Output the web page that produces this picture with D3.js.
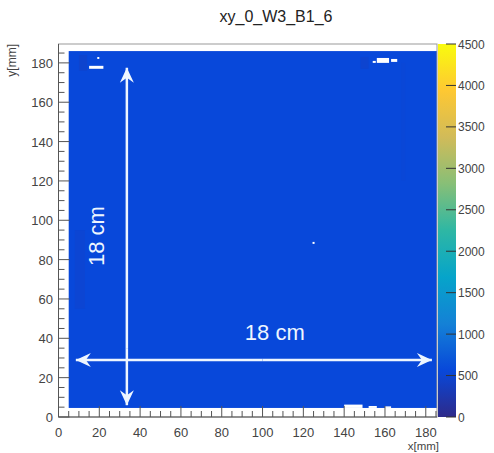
<!DOCTYPE html>
<html>
<head>
<meta charset="utf-8">
<script src="https://cdn.jsdelivr.net/npm/d3@7/dist/d3.min.js"></script>
<style>
  body { margin: 0; background: #fff; }
  svg text { font-family: "Liberation Sans", Arial, sans-serif; }
</style>
</head>
<body>
<svg id="chart" width="494" height="453"></svg>
<script>
const title = "xy_0_W3_B1_6";
const xTicks = [0, 20, 40, 60, 80, 100, 120, 140, 160, 180];
const yTicks = [0, 20, 40, 60, 80, 100, 120, 140, 160, 180];
const zTicks = [0, 500, 1000, 1500, 2000, 2500, 3000, 3500, 4000, 4500];

// filled bins [x0, x1, y0, y1, counts]
const bins = [
  [5, 185.5, 4.6, 186, 562],
  [8, 13, 55, 95, 510],
  [10, 14, 176, 184, 480],
  [148, 152, 177, 183, 490],
  [168, 170, 120, 180, 540]
];
// empty bins (no entries)
const emptyBins = [
  [15, 22, 177, 178.5],
  [19, 20, 182, 183],
  [156, 162, 180, 182.5],
  [163, 166, 180.5, 182],
  [154, 155.5, 180, 181],
  [140, 149, 4.6, 6.3],
  [152, 156, 4.6, 5.6],
  [160, 163, 4.6, 5.4],
  [124.5, 125.5, 88, 89]
];
// annotation arrows [x0, y0, x1, y1] in mm
const arrows = [
  [33.5, 35, 33.5, 177.5],
  [33.5, 35, 33.5, 6],
  [100, 29, 8.5, 29],
  [100, 29, 183, 29]
];

const svg = d3.select("#chart");
const x = d3.scaleLinear().domain([0, 185.5]).range([58.5, 437]);
const y = d3.scaleLinear().domain([0, 189.6]).range([417, 44]);

// kBird-like palette as it appears in the picture
const bird = ["#2e2a8a", "#0848da", "#1481d6", "#06a4ca", "#2eb7a4", "#87bf77", "#d1bb59", "#fec832", "#f9fb0e"];
const color = d3.scaleSequential(d3.piecewise(d3.interpolateRgb, bird)).domain([0, 4500]);

svg.append("text").attr("x", 276).attr("y", 22).attr("text-anchor", "middle")
  .attr("font-size", 16).attr("fill", "#222").text(title);

const g = svg.append("g");
g.selectAll("rect.bin").data(bins).enter().append("rect").attr("class", "bin")
  .attr("x", d => x(d[0])).attr("width", d => x(d[1]) - x(d[0]))
  .attr("y", d => y(d[3])).attr("height", d => y(d[2]) - y(d[3]))
  .attr("fill", d => color(d[4]));
g.selectAll("rect.empty").data(emptyBins).enter().append("rect").attr("class", "empty")
  .attr("x", d => x(d[0])).attr("width", d => x(d[1]) - x(d[0]))
  .attr("y", d => y(d[3])).attr("height", d => y(d[2]) - y(d[3]))
  .attr("fill", "#fff");

// frame
svg.append("rect").attr("x", x(0)).attr("y", y(189.6))
  .attr("width", x(185.5) - x(0)).attr("height", y(0) - y(189.6))
  .attr("fill", "none").attr("stroke", "#999").attr("stroke-width", 1);

// axes with inward ticks
const xMinor = d3.range(0, 186, 5);
const yMinor = d3.range(0, 190, 5);
const ax = svg.append("g").attr("stroke", "#555");
ax.selectAll("line.xt").data(xMinor).enter().append("line")
  .attr("x1", d => x(d)).attr("x2", d => x(d))
  .attr("y1", y(0)).attr("y2", d => y(0) - (d % 20 === 0 ? 11 : 6));
ax.selectAll("line.yt").data(yMinor).enter().append("line")
  .attr("y1", d => y(d)).attr("y2", d => y(d))
  .attr("x1", x(0)).attr("x2", d => x(0) + (d % 20 === 0 ? 11 : 6));
ax.append("line").attr("x1", x(0)).attr("x2", x(185.5)).attr("y1", y(0)).attr("y2", y(0));
ax.append("line").attr("x1", x(0)).attr("x2", x(0)).attr("y1", y(0)).attr("y2", y(189.6));

svg.selectAll("text.xl").data(xTicks).enter().append("text")
  .attr("x", d => x(d)).attr("y", 437).attr("text-anchor", "middle")
  .attr("font-size", 13).attr("fill", "#444").text(d => d);
svg.selectAll("text.yl").data(yTicks).enter().append("text")
  .attr("x", 53).attr("y", d => y(d) + 5).attr("text-anchor", "end")
  .attr("font-size", 13).attr("fill", "#444").text(d => d);
svg.append("text").attr("x", 439).attr("y", 450).attr("text-anchor", "end")
  .attr("font-size", 11.5).attr("fill", "#444").text("x[mm]");
svg.append("text").attr("transform", "translate(16,44) rotate(-90)").attr("text-anchor", "end")
  .attr("font-size", 12).attr("fill", "#444").text("y[mm]");

// colour bar
const zs = d3.scaleLinear().domain([0, 4500]).range([417, 44]);
const grad = svg.append("defs").append("linearGradient").attr("id", "zg")
  .attr("x1", 0).attr("y1", 1).attr("x2", 0).attr("y2", 0);
d3.range(0, 1.001, 0.025).forEach(t => grad.append("stop")
  .attr("offset", t).attr("stop-color", color(t * 4500)));
svg.append("rect").attr("x", 438).attr("y", zs(4500)).attr("width", 18)
  .attr("height", zs(0) - zs(4500)).attr("fill", "url(#zg)");
svg.selectAll("line.zt").data(zTicks).enter().append("line")
  .attr("x1", 446).attr("x2", 456).attr("y1", d => zs(d)).attr("y2", d => zs(d))
  .attr("stroke", "#333");
svg.selectAll("text.zl").data(zTicks).enter().append("text")
  .attr("x", 458).attr("y", d => zs(d) + 4.5)
  .attr("font-size", 12).attr("fill", "#444").text(d => d);

// annotations
const white = "#eef6ff";
svg.selectAll("line.arr").data(arrows).enter().append("line")
  .attr("x1", d => x(d[0])).attr("y1", d => y(d[1]))
  .attr("x2", d => x(d[2])).attr("y2", d => y(d[3]))
  .attr("stroke", white).attr("stroke-width", 2.5);
svg.selectAll("path.head").data(arrows).enter().append("path")
  .attr("d", d => {
    const tx = x(d[2]), ty = y(d[3]);
    const a = Math.atan2(ty - y(d[1]), tx - x(d[0]));
    const L = 15, W = 7;
    const bx = tx - L * Math.cos(a), by = ty - L * Math.sin(a);
    const nx = -Math.sin(a) * W, ny = Math.cos(a) * W;
    return `M${tx},${ty}L${bx + nx},${by + ny}L${tx - 10 * Math.cos(a)},${ty - 10 * Math.sin(a)}L${bx - nx},${by - ny}Z`;
  })
  .attr("fill", white);
svg.append("text").attr("transform", `translate(${x(22.5)},${y(92)}) rotate(-90)`)
  .attr("text-anchor", "middle").attr("font-size", 22).attr("fill", white).text("18 cm");
svg.append("text").attr("x", x(106)).attr("y", y(39))
  .attr("text-anchor", "middle").attr("font-size", 22).attr("fill", white).text("18 cm");
</script>
</body>
</html>
